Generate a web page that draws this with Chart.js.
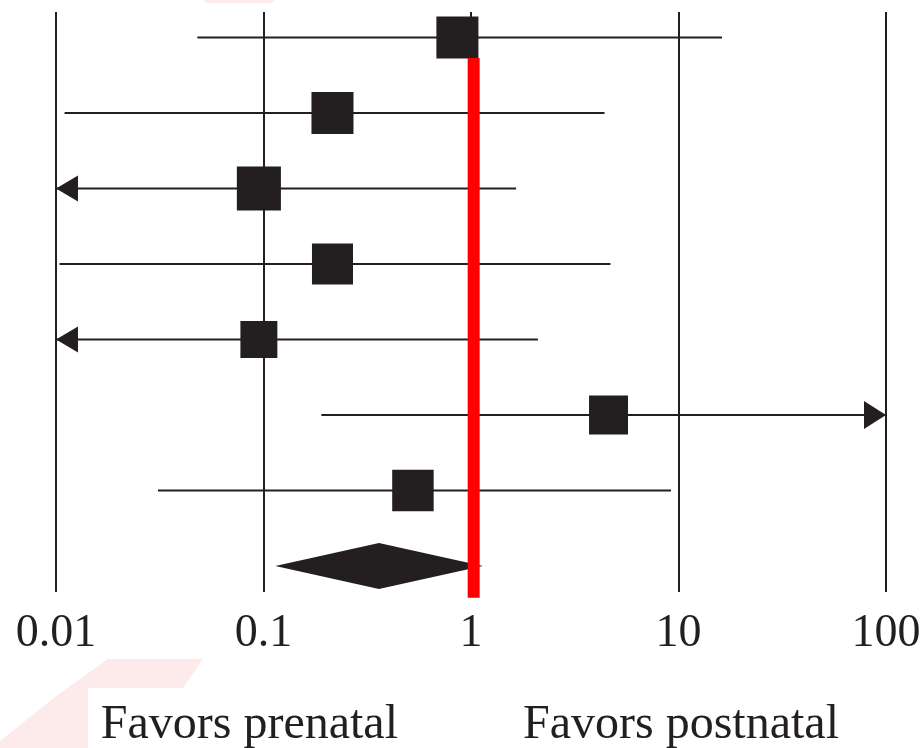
<!DOCTYPE html>
<html>
<head>
<meta charset="utf-8">
<script src="https://cdn.jsdelivr.net/npm/chart.js@4.4.1/dist/chart.umd.min.js"></script>
<style>
  html, body { margin: 0; padding: 0; background: #fff; }
  #wrap { width: 923px; height: 748px; }
</style>
</head>
<body>
<div id="wrap"><canvas id="forest"></canvas></div>
<script>
// studies, top to bottom (odds ratio, log scale)
const rows = [1, 2, 3, 4, 5, 6, 7];
const estimates = [0.86, 0.215, 0.095, 0.215, 0.095, 4.6, 0.525];
const ciLow = [0.048, 0.011, 0.005, 0.0104, 0.005, 0.19, 0.031];
const ciHigh = [16.2, 4.4, 1.65, 4.7, 2.1, 200, 9.2];
const weights = [15.0, 15.0, 16.5, 14.3, 11.6, 12.9, 14.6];

// pooled estimate (diamond)
const pooledRow = 8;
const pooled = { low: 0.114, est: 0.36, high: 1.14 };

// red reference line
const refValue = 1.03;
const refFrom = 1.27;
const refTo = 8.42;

const tickValues = [0.01, 0.1, 1, 10, 100];
const tickLabels = ['0.01', '0.1', '1', '10', '100'];
const sideLabels = ['Favors prenatal', 'Favors postnatal'];

const xMin = 0.01;
const xMax = 100;
const ink = '#231f20';
const serif = "'Liberation Serif', 'DejaVu Serif', serif";

const ciSets = rows.map((r, i) => ({
  data: [
    { x: Math.max(ciLow[i], xMin), y: r },
    { x: Math.min(ciHigh[i], xMax), y: r },
  ],
  showLine: true,
  borderColor: ink,
  borderWidth: 2,
  pointRadius: 0,
  order: 2,
}));

const boxes = {
  data: rows.map((r, i) => ({ x: estimates[i], y: r })),
  pointStyle: 'rect',
  pointRadius: weights.map((w) => (10.85 * Math.sqrt(w)) / Math.SQRT2),
  backgroundColor: ink,
  borderWidth: 0,
  order: 1,
};

const refLine = {
  data: [
    { x: refValue, y: refFrom },
    { x: refValue, y: refTo },
  ],
  showLine: true,
  borderColor: '#ff0000',
  borderWidth: 12,
  borderCapStyle: 'butt',
  pointRadius: 0,
  clip: false,
  order: 0,
};

// faint watermark left over in the scan
const watermark = {
  id: 'watermark',
  beforeDraw(chart) {
    const ctx = chart.ctx;
    ctx.save();
    ctx.fillStyle = '#fdeaea';
    ctx.beginPath();
    ctx.moveTo(108, 659);
    ctx.lineTo(203, 659);
    ctx.lineTo(183, 688);
    ctx.lineTo(88, 688);
    ctx.lineTo(88, 748);
    ctx.lineTo(0, 748);
    ctx.lineTo(0, 741);
    ctx.lineTo(55, 697);
    ctx.closePath();
    ctx.fill();
    ctx.beginPath();
    ctx.moveTo(203, 0);
    ctx.lineTo(275, 0);
    ctx.lineTo(271, 3);
    ctx.lineTo(207, 3);
    ctx.closePath();
    ctx.fill();
    ctx.restore();
  },
};

// diamond + arrow heads for intervals running off the axis
const forestMarks = {
  id: 'forestMarks',
  beforeDatasetsDraw(chart) {
    const { ctx, scales: { x, y } } = chart;
    ctx.save();
    ctx.fillStyle = ink;

    const yc = y.getPixelForValue(pooledRow);
    const yt = y.getPixelForValue(pooledRow - 0.305);
    const yb = y.getPixelForValue(pooledRow + 0.305);
    ctx.beginPath();
    ctx.moveTo(x.getPixelForValue(pooled.low), yc);
    ctx.lineTo(x.getPixelForValue(pooled.est), yt);
    ctx.lineTo(x.getPixelForValue(pooled.high), yc);
    ctx.lineTo(x.getPixelForValue(pooled.est), yb);
    ctx.closePath();
    ctx.fill();

    rows.forEach((r, i) => {
      const py = y.getPixelForValue(r);
      if (ciLow[i] < xMin) {
        const tip = x.getPixelForValue(xMin);
        ctx.beginPath();
        ctx.moveTo(tip, py);
        ctx.lineTo(tip + 22, py - 13);
        ctx.lineTo(tip + 22, py + 13);
        ctx.closePath();
        ctx.fill();
      }
      if (ciHigh[i] > xMax) {
        const tip = x.getPixelForValue(xMax);
        ctx.beginPath();
        ctx.moveTo(tip, py);
        ctx.lineTo(tip - 22, py - 14);
        ctx.lineTo(tip - 22, py + 14);
        ctx.closePath();
        ctx.fill();
      }
    });
    ctx.restore();
  },
  afterDraw(chart) {
    const { ctx, chartArea } = chart;
    const w = chartArea.right - chartArea.left;
    ctx.save();
    ctx.fillStyle = ink;
    ctx.font = '48px ' + serif;
    ctx.textAlign = 'center';
    ctx.textBaseline = 'alphabetic';
    ctx.fillText(sideLabels[0], chartArea.left + w * 0.233, 738);
    ctx.fillText(sideLabels[1], chartArea.left + w * 0.753, 738);
    ctx.restore();
  },
};

new Chart(document.getElementById('forest').getContext('2d'), {
  type: 'scatter',
  data: { datasets: [...ciSets, boxes, refLine] },
  options: {
    responsive: true,
    maintainAspectRatio: false,
    animation: false,
    devicePixelRatio: 1,
    layout: { autoPadding: false, padding: { left: 56, right: 37, top: 12, bottom: 0 } },
    plugins: {
      legend: { display: false },
      tooltip: { enabled: false },
    },
    scales: {
      x: {
        type: 'logarithmic',
        min: xMin,
        max: xMax,
        afterBuildTicks: (scale) => {
          scale.ticks = tickValues.map((v) => ({ value: v }));
        },
        afterFit: (scale) => {
          scale.height = 156;
          scale.paddingLeft = 0;
          scale.paddingRight = 0;
        },
        ticks: {
          callback: (v, i) => tickLabels[i],
          color: ink,
          font: { family: serif, size: 46 },
          padding: 14,
          maxRotation: 0,
          autoSkip: false,
        },
        grid: { color: ink, lineWidth: 2, drawTicks: false },
        border: { display: false },
      },
      y: {
        type: 'linear',
        display: false,
        reverse: true,
        min: 0.662,
        max: 8.344,
      },
    },
  },
  plugins: [watermark, forestMarks],
});
</script>
</body>
</html>
